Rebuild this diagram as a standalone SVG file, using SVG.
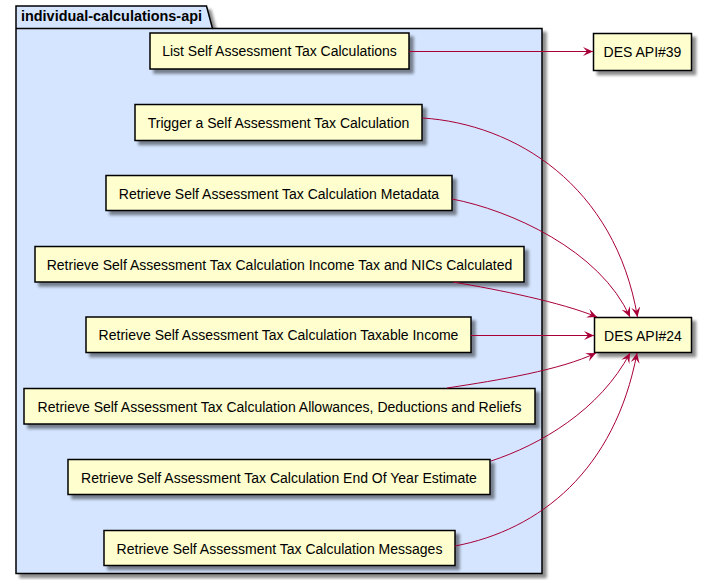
<svg xmlns="http://www.w3.org/2000/svg" width="702" height="580" viewBox="0 0 702 580">
<defs>
<filter id="sh" x="-10%" y="-10%" width="130%" height="140%">
<feGaussianBlur in="SourceAlpha" stdDeviation="1.8" result="b"/>
<feOffset in="b" dx="4" dy="4" result="o"/>
<feComponentTransfer in="o" result="g"><feFuncA type="linear" slope="0.45"/></feComponentTransfer>
<feMerge><feMergeNode in="g"/><feMergeNode in="SourceGraphic"/></feMerge>
</filter>
<marker id="ah" markerUnits="userSpaceOnUse" markerWidth="11" markerHeight="9" viewBox="0 0 11 9" refX="10" refY="4.5" orient="auto">
<path d="M0,0 L10,4.5 L0,9 L4,4.5 Z" fill="#A80036"/>
</marker>
<style>
.node rect{fill:#FEFECE;stroke:#000;stroke-width:1.5;filter:url(#sh)}
.node text{font-family:"Liberation Sans",Arial,sans-serif;font-size:14px;fill:#000;text-anchor:middle}
.pkg{fill:#D5E5FF;stroke:#000;stroke-width:1.5}
.title{font-family:"Liberation Sans",Arial,sans-serif;font-size:14px;font-weight:bold;fill:#000}
.conn path{fill:none;stroke:#A80036;stroke-width:1;marker-end:url(#ah)}
</style>
</defs>
<rect width="702" height="580" fill="#FFFFFF"/>
<g id="package-individual-calculations-api">
<path class="pkg" filter="url(#sh)" d="M16,6 L206.5,6 L212.5,28.5 L542,28.5 L542,573.5 L16,573.5 Z"/>
<line x1="16" y1="28.5" x2="212.5" y2="28.5" stroke="#000" stroke-width="1.5"/>
<text class="title" x="21" y="21" textLength="181" lengthAdjust="spacingAndGlyphs">individual-calculations-api</text>
</g>
<g id="node-list" class="node"><rect x="150" y="33" width="259" height="36"/><text x="279.5" y="56">List Self Assessment Tax Calculations</text></g>
<g id="node-trigger" class="node"><rect x="135" y="104.5" width="287" height="36"/><text x="278.5" y="127.5">Trigger a Self Assessment Tax Calculation</text></g>
<g id="node-metadata" class="node"><rect x="106" y="175.5" width="346" height="35"/><text x="279" y="198.5">Retrieve Self Assessment Tax Calculation Metadata</text></g>
<g id="node-income-tax" class="node"><rect x="35" y="246.5" width="489" height="35.5"/><text x="279.5" y="269.5">Retrieve Self Assessment Tax Calculation Income Tax and NICs Calculated</text></g>
<g id="node-taxable" class="node"><rect x="86" y="317" width="385" height="35.5"/><text x="278.5" y="340">Retrieve Self Assessment Tax Calculation Taxable Income</text></g>
<g id="node-allowances" class="node"><rect x="24" y="388.5" width="511" height="35.5"/><text x="279.5" y="411.5">Retrieve Self Assessment Tax Calculation Allowances, Deductions and Reliefs</text></g>
<g id="node-eoy" class="node"><rect x="68" y="459.5" width="422" height="35"/><text x="279" y="482.5">Retrieve Self Assessment Tax Calculation End Of Year Estimate</text></g>
<g id="node-messages" class="node"><rect x="104" y="530.5" width="351" height="35"/><text x="279.5" y="553.5">Retrieve Self Assessment Tax Calculation Messages</text></g>
<g id="node-des39" class="node"><rect x="593.5" y="33.5" width="98" height="37"/><text x="642.5" y="57">DES API#39</text></g>
<g id="node-des24" class="node"><rect x="594.5" y="317.5" width="97" height="35"/><text x="643" y="340.5">DES API#24</text></g>
<g id="connectors" class="conn">
<path d="M409,51.5 L593,51.5"/>
<path d="M422.5,118 C515,124 615,185 637.5,317"/>
<path d="M452,199 C510,210 600,250 630,317"/>
<path d="M453,282 C500,290 560,302 597,317"/>
<path d="M471,335.5 L594,335.5"/>
<path d="M447,388 C500,380 560,370 596,353"/>
<path d="M491,461 C540,445 600,410 630,353"/>
<path d="M455,546 C540,530 615,470 637,353"/>
</g>
</svg>
